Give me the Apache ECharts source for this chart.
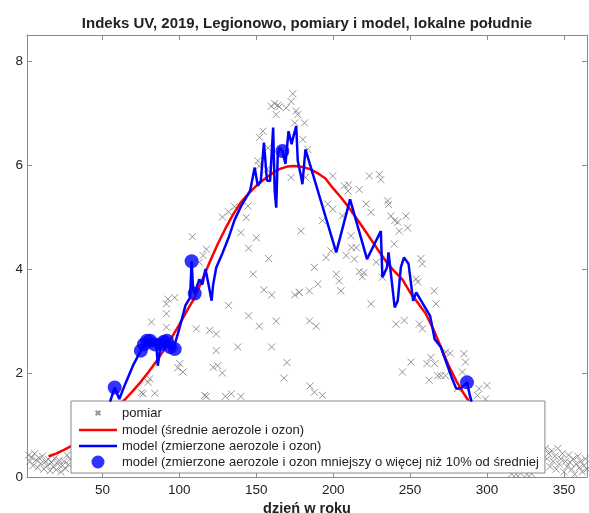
<!DOCTYPE html>
<html>
<head>
<meta charset="utf-8">
<script src="https://cdn.jsdelivr.net/npm/echarts@6/dist/echarts.min.js"></script>
<style>
  html, body { margin: 0; padding: 0; background: #fff; }
  #chart { width: 589px; height: 513px; }
</style>
</head>
<body>
<div id="chart"></div>
<script>
// Tick positions on the axes
const xTicks = [50, 100, 150, 200, 250, 300, 350];
const yTicks = [0, 2, 4, 6, 8];

// Measured UV index at local noon: [day of year, UV index]
const pomiar = [
  [2,0.42],[3,0.30],[4,0.38],[5,0.22],[6,0.45],[7,0.33],[8,0.18],[9,0.36],[10,0.26],[11,0.40],
  [12,0.15],[13,0.30],[14,0.22],[15,0.34],[16,0.12],[17,0.28],[18,0.20],[19,0.36],[20,0.14],[21,0.25],
  [22,0.32],[23,0.10],[24,0.22],[25,0.30],[26,0.16],[27,0.42],[28,0.24],[29,0.34],
  [40,0.6],[48,0.8],[55,0.9],[62,1.1],[70,1.2],[90,1.3],[110,1.0],[150,1.2],[200,1.1],[260,1.2],
  [316,0.06],[319,0.05],[322,0.07],[326,0.05],[329,0.06],
  [75.4,1.62],[76.5,1.60],[79.7,1.82],[80.8,1.89],[84,1.61],[81.9,2.98],[91.6,3.33],[91.6,3.14],
  [92.7,3.42],[97,3.45],[91.6,2.88],[100.3,2.18],[102.4,2.02],[99,2.10],[108.5,4.62],[113,4.13],
  [115.4,4.26],[117.6,4.38],[111,2.85],[119.7,2.82],[124,2.43],[122,2.11],[124,2.75],[125,2.14],
  [116.5,1.57],[117.6,1.55],[133.8,1.60],[143.5,4.99],[144.6,5.21],[151,6.08],[152,5.98],
  [152.2,6.53],[154.3,6.65],[157,5.92],[157.6,6.33],[159.7,7.13],[162,7.18],[163,6.97],[164,7.15],
  [165,7.12],[169.5,7.10],[172.7,7.22],[173.8,7.37],[176,7.04],[177,6.97],[175,6.81],[181.4,6.81],
  [180.3,6.49],[183.5,6.30],[172.7,5.76],[182,5.76],[128,5.0],[132,5.1],[136,5.2],[140,4.7],
  [145,4.4],[148,3.9],[150,4.6],[155,3.6],[158,4.2],[160,3.5],[163,3.0],[170,2.2],[175,3.5],
  [178,3.55],[184.6,3.58],[187.8,4.03],[190,3.71],[184.6,3.00],[189,2.90],[187.8,1.63],[193,1.57],
  [185,1.75],[168,1.9],[160,2.5],[152,2.9],[145,3.1],[138,2.5],[132,3.3],[128,2.0],[130,1.55],
  [140,1.55],[179,4.73],
  [199.7,5.79],[223.5,5.79],[230,5.82],[231,5.72],[207.3,5.60],[210,5.62],[209.6,5.50],[217,5.53],
  [235.4,5.31],[236,5.24],[221.4,5.25],[224.6,5.09],[196.5,5.25],[199.7,5.15],[206,5.02],[193,4.93],
  [237.5,5.02],[247.3,5.02],[240,4.93],[242,4.90],[243,4.73],[248.4,4.79],[211.6,4.64],[239.7,4.48],
  [198.6,4.35],[212,4.41],[215,4.41],[195.4,4.22],[208.4,4.26],[213.8,4.19],[217,3.95],[220,3.93],
  [219,3.85],[228,4.13],[202,3.90],[204,3.77],[178,3.55],[205,3.58],[232,3.84],[254,3.81],
  [255,3.75],[257,4.20],[258,4.10],[265.7,3.58],[266.8,3.33],[224.6,3.33],[240.8,2.94],[246.2,3.01],
  [256,2.94],[258,2.85],[263.5,2.30],[273.3,2.40],[276,2.38],[285,2.37],[286,2.21],[250.6,2.21],
  [261,2.18],[266,2.18],[245,2.02],[268,1.95],[270,1.95],[273,1.95],[262.4,1.86],[284,2.02],
  [294.8,1.70],[300,1.76],[293.8,1.57],[299,1.50],[280.8,1.70],
  [338,0.55],[339,0.35],[340,0.45],[341,0.20],[342,0.50],[343,0.30],[344,0.40],[345,0.15],[346,0.55],
  [347,0.25],[348,0.35],[349,0.45],[350,0.10],[351,0.30],[352,0.20],[353,0.42],[354,0.28],[355,0.15],
  [356,0.35],[357,0.05],[358,0.25],[359,0.40],[360,0.18],[361,0.30],[362,0.10],[363,0.22],[364,0.35],
  [365,0.15]
];

// Model with mean aerosol and ozone
const modelSrednie = [
  [15,0.40],[20,0.45],[25,0.52],[30,0.60],[35,0.70],[40,0.82],[45,0.95],[50,1.09],[55,1.23],
  [60,1.37],[65,1.50],[70,1.66],[75,1.83],[80,2.02],[85,2.22],[90,2.44],[95,2.68],[100,2.93],
  [105,3.20],[110,3.45],[115,3.80],[120,4.15],[125,4.48],[130,4.78],[135,5.05],[140,5.28],
  [145,5.45],[150,5.60],[155,5.72],[160,5.83],[165,5.92],[170,5.97],[175,5.98],[180,5.96],
  [185,5.92],[190,5.84],[195,5.74],[200,5.55],[205,5.38],[210,5.19],[215,4.98],[220,4.77],
  [225,4.55],[230,4.33],[235,4.12],[240,3.95],[245,3.80],[250,3.55],[255,3.35],[260,3.15],
  [265,2.85],[270,2.50],[275,2.15],[280,1.85],[285,1.60],[290,1.38],[295,1.20],[300,1.05],
  [310,0.82],[320,0.63],[330,0.50],[337,0.42]
];

// Model with measured aerosol and ozone
const modelZmierzone = [
  [55,1.45],[58,1.72],[61,1.50],[65,1.80],[70,2.15],[75,2.43],[77,2.55],[79,2.62],[81,2.62],
  [83,2.55],[85,2.60],[86,2.14],[88,2.55],[90,2.60],[92,2.62],[94,2.50],[96,2.45],[97,2.46],
  [100,2.85],[104,3.30],[107,3.45],[108,4.15],[109,3.60],[110,3.53],[113,3.80],[115,3.70],
  [117,4.00],[119,3.70],[121,3.39],[122,3.70],[124,4.03],[128,4.30],[132,4.60],[136,4.95],
  [140,5.20],[144,5.40],[146,5.50],[149,5.95],[151,5.60],[153,5.70],[155,6.43],[157,5.70],
  [159,5.69],[161,6.72],[162,5.50],[163,5.18],[164,6.20],[165,6.33],[167,6.27],[169,6.02],
  [171,6.65],[173,6.40],[174,6.53],[176,6.75],[177,6.08],[179,5.80],[180,5.63],[182,6.30],
  [202,4.32],[211,5.34],[222,4.19],[231,4.73],[232,3.84],[235,4.03],[236,4.32],[239,3.52],
  [240,3.26],[242,3.39],[244,4.03],[246,4.22],[249,4.10],[252,3.39],[254,3.55],[258,3.35],
  [263,3.10],[266,2.65],[270,2.50],[273,2.25],[277,1.92],[280,1.70],[283,1.70],[287,1.82],
  [289,1.55],[290,1.45]
];

// Days where the measured-input model is lower by more than 10% than the mean-input model
const modelNizszy = [
  [58,1.72],[75,2.43],[77,2.55],[79,2.62],[81,2.62],[84,2.55],[88,2.55],[90,2.60],[92,2.62],
  [94,2.50],[97,2.46],[108,4.15],[110,3.53],[167,6.27],[287,1.82]
];

const frameColor = '#8a8a8a';
const textColor = '#222';
const font = 'Liberation Sans';
const crossPath = 'path://M0,0L10,10M10,0L0,10';
// legend icons: padded so the glyph keeps a small size inside the icon box
const crossLegend = 'path://M-9,-9M19,19M0,0L10,10M10,0L0,10';
const lineLegend = 'path://M0,-6.5M0,-1.25L38,-1.25L38,1.25L0,1.25ZM38,6.5';

function axisCommon(extra) {
  return Object.assign({
    type: 'value',
    axisLine: { show: true, onZero: false, lineStyle: { color: frameColor, width: 1 } },
    splitLine: { show: false }
  }, extra);
}

const chart = echarts.init(document.getElementById('chart'), null, { renderer: 'canvas' });
chart.setOption({
  animation: false,
  backgroundColor: '#fff',
  title: {
    text: 'Indeks UV, 2019, Legionowo, pomiary i model, lokalne południe',
    left: 302, top: 11, textAlign: 'center',
    textStyle: { fontFamily: font, fontSize: 15, fontWeight: 'bold', color: textColor }
  },
  grid: { left: 27, right: 2, top: 35, bottom: 36, containLabel: false, outerBoundsMode: 'none' },
  legend: {
    orient: 'vertical',
    left: 71, top: 401,
    padding: [3, 6, 3, 8],
    itemWidth: 38, itemHeight: 13, itemGap: 0,
    backgroundColor: '#fff',
    borderColor: frameColor, borderWidth: 1, borderRadius: 0,
    selectedMode: false,
    textStyle: { fontFamily: font, fontSize: 13, lineHeight: 16, color: textColor },
    data: [
      { name: 'pomiar', icon: crossLegend },
      { name: 'model (średnie aerozole i ozon)', icon: lineLegend },
      { name: 'model (zmierzone aerozole i ozon)', icon: lineLegend },
      { name: 'model (zmierzone aerozole i ozon mniejszy o więcej niż 10% od średniej', icon: 'circle' }
    ]
  },
  xAxis: [
    axisCommon({
      position: 'bottom', min: 1, max: 365,
      axisTick: { inside: true, length: 5, customValues: xTicks, lineStyle: { color: frameColor } },
      axisLabel: { customValues: xTicks, margin: 6, fontFamily: font, fontSize: 13.5, color: textColor },
      name: 'dzień w roku', nameLocation: 'middle', nameGap: 23,
      nameTextStyle: { fontFamily: font, fontSize: 14.5, fontWeight: 'bold', color: textColor }
    }),
    axisCommon({
      position: 'top', min: 1, max: 365,
      axisTick: { inside: true, length: 5, customValues: xTicks, lineStyle: { color: frameColor } },
      axisLabel: { show: false }
    })
  ],
  yAxis: [
    axisCommon({
      position: 'left', min: 0, max: 8.5,
      axisTick: { inside: true, length: 5, customValues: yTicks, lineStyle: { color: frameColor } },
      axisLabel: { customValues: yTicks, margin: 4, fontFamily: font, fontSize: 13.5, color: textColor }
    }),
    axisCommon({
      position: 'right', min: 0, max: 8.5,
      axisTick: { inside: true, length: 5, customValues: yTicks, lineStyle: { color: frameColor } },
      axisLabel: { show: false }
    })
  ],
  series: [
    {
      name: 'pomiar', type: 'scatter', data: pomiar,
      symbol: crossPath, symbolSize: 7,
      itemStyle: { color: 'none', borderColor: '#7a7a7a', borderWidth: 1 },
      silent: true, z: 2
    },
    {
      name: 'model (średnie aerozole i ozon)', type: 'line', data: modelSrednie,
      showSymbol: false, symbol: 'none',
      lineStyle: { color: '#ff0000', width: 2.5 }, itemStyle: { color: '#ff0000' },
      silent: true, z: 3
    },
    {
      name: 'model (zmierzone aerozole i ozon)', type: 'line', data: modelZmierzone,
      showSymbol: false, symbol: 'none',
      lineStyle: { color: '#0000ff', width: 2.5 }, itemStyle: { color: '#0000ff' },
      silent: true, z: 4
    },
    {
      name: 'model (zmierzone aerozole i ozon mniejszy o więcej niż 10% od średniej', type: 'scatter',
      data: modelNizszy, symbol: 'circle', symbolSize: 14,
      itemStyle: { color: '#0000ff' }, silent: true, z: 5
    }
  ]
});
</script>
</body>
</html>
